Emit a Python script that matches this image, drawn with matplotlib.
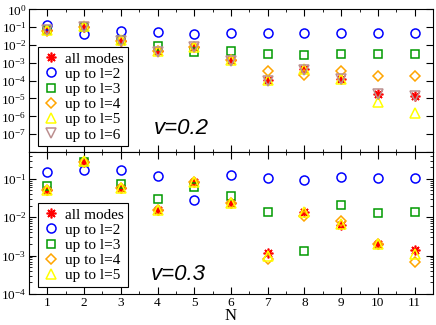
import numpy as np
import matplotlib
matplotlib.use('Agg')
from matplotlib import pyplot
from matplotlib.ticker import FixedLocator, NullFormatter

pyplot.rcParams['mathtext.fontset'] = 'custom'
pyplot.rcParams['mathtext.rm'] = 'Liberation Serif'
pyplot.rcParams['mathtext.it'] = 'Liberation Serif:italic'
pyplot.rcParams['font.family'] = 'Liberation Serif'

N = np.arange(1, 12)

# v = 0.2
top_all = [0.065, 0.105, 0.017, 0.0047, 0.0079, 0.0014, 1.07e-4, 4.4e-4, 1.26e-4, 1.7e-5, 1.4e-5]
top_l2 = [0.13, 0.039, 0.06, 0.053, 0.041, 0.049, 0.049, 0.049, 0.049, 0.049, 0.049]
top_l3 = [0.065, 0.1, 0.019, 0.0087, 0.0042, 0.0045, 0.0033, 0.0027, 0.0033, 0.0031, 0.0031]
top_l4 = [0.06, 0.1, 0.017, 0.0047, 0.0079, 0.0014, 3.4e-4, 2.1e-4, 3.5e-4, 1.8e-4, 1.8e-4]
top_l5 = [0.07, 0.115, 0.018, 0.0045, 0.008, 0.0015, 1.1e-4, 4.6e-4, 1.3e-4, 6e-6, 1.5e-6]
top_l6 = [0.065, 0.105, 0.017, 0.0042, 0.0077, 0.0013, 1.0e-4, 4.2e-4, 1.2e-4, 1.8e-5, 1.4e-5]

# v = 0.3
bot_all = [0.052, 0.28, 0.057, 0.0156, 0.082, 0.023, 0.00117, 0.0136, 0.0061, 0.0020, 0.00144]
bot_l2 = [0.155, 0.174, 0.165, 0.12, 0.028, 0.127, 0.104, 0.091, 0.115, 0.104, 0.104]
bot_l3 = [0.067, 0.28, 0.074, 0.029, 0.063, 0.035, 0.0133, 0.00129, 0.021, 0.0129, 0.0133]
bot_l4 = [0.052, 0.28, 0.057, 0.0156, 0.082, 0.023, 8.3e-4, 0.0107, 0.0078, 0.0020, 6.7e-4]
bot_l5 = [0.052, 0.29, 0.057, 0.0156, 0.085, 0.024, 9.5e-4, 0.014, 0.0067, 0.0020, 0.00113]

labels = ['all modes', 'up to l=2', 'up to l=3', 'up to l=4', 'up to l=5', 'up to l=6']
markers = [(8, 2, 0), 'o', 's', 'D', '^', 'v']
colors = ['#ff0000', '#0000ff', '#009a00', '#ffa500', '#ffff00', '#bc8f8f']
sizes = [7, 6.5, 5.5, 4.8, 6.5, 6.5]

fig = pyplot.figure(figsize=(4.36, 3.25), dpi=100)
ax1 = fig.add_axes([0.0665, 0.5323, 0.9266, 0.439])
ax2 = fig.add_axes([0.0665, 0.0954, 0.9266, 0.4369])


def draw(ax, series, leg_y):
    for i, vals in enumerate(series):
        if i == 0:
            ax.plot(N, vals, linestyle='none', marker=markers[i], color=colors[i],
                    markersize=sizes[i], markeredgewidth=1.2, label=labels[i])
        else:
            ax.plot(N, vals, linestyle='none', marker=markers[i], markerfacecolor='none',
                    markeredgecolor=colors[i], markersize=sizes[i], markeredgewidth=1.1,
                    label=labels[i])
    ax.set_yscale('log')
    ax.set_xlim(0.5, 11.5)
    ax.tick_params(which='both', direction='in', right=True, top=True, labelsize=9.5)
    ax.tick_params(which='major', length=5, pad=2)
    ax.tick_params(which='minor', length=2.5)
    ax.xaxis.set_minor_locator(FixedLocator(np.arange(0.5, 12, 1.0)))
    leg = ax.legend(loc='lower left', fontsize=11, frameon=True, fancybox=False,
                    edgecolor='black', framealpha=1, handletextpad=0.45,
                    labelspacing=0.1, borderpad=0.3, handlelength=1.0,
                    borderaxespad=0, bbox_to_anchor=(0.023, leg_y))
    leg.get_frame().set_linewidth(0.8)


draw(ax1, [top_all, top_l2, top_l3, top_l4, top_l5, top_l6], 0.04)
ax1.set_ylim(1e-8, 1)
ax1.yaxis.set_major_locator(FixedLocator([10.0 ** k for k in range(-8, 1)]))
ax1.set_yticklabels([''] + ['$10^{%d}$' % k for k in range(-7, 1)])
ax1.set_xticks(N)
ax1.xaxis.set_major_formatter(NullFormatter())
ax1.text(0.376, 0.168, 'v=0.2', transform=ax1.transAxes, fontsize=16,
         family='Liberation Sans', style='italic', ha='center', va='center')

draw(ax2, [bot_all, bot_l2, bot_l3, bot_l4, bot_l5], 0.049)
ax2.set_ylim(1e-4, 0.5)
ax2.yaxis.set_major_locator(FixedLocator([1e-4, 1e-3, 1e-2, 1e-1]))
ax2.set_yticklabels(['$10^{%d}$' % k for k in range(-4, 0)])
ax2.set_xticks(N)
ax2.set_xticklabels([str(n) for n in N])
ax2.set_xlabel('N', fontsize=12, labelpad=-0.5)
ax2.text(0.369, 0.134, 'v=0.3', transform=ax2.transAxes, fontsize=16,
         family='Liberation Sans', style='italic', ha='center', va='center')

fig.savefig('out.png', dpi=100)
